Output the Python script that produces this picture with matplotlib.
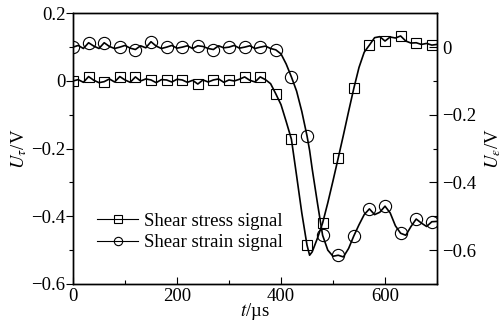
import matplotlib
matplotlib.use("Agg")
import matplotlib.pyplot as plt
from matplotlib.lines import Line2D
from matplotlib.ticker import MultipleLocator
import numpy as np

plt.rcParams['font.family'] = ['Liberation Serif', 'DejaVu Serif']
plt.rcParams['mathtext.fontset'] = 'stix'
plt.rcParams['axes.unicode_minus'] = True

# time in microseconds
t_us = [0, 10, 20, 30, 40, 50, 60, 70, 80, 90, 100, 110, 120, 130, 140, 150, 160, 170, 180, 190,
        200, 210, 220, 230, 240, 250, 260, 270, 280, 290, 300, 310, 320, 330, 340, 350, 360, 370, 380, 390,
        400, 410, 420, 430, 440, 450, 455, 460, 470, 480, 490, 500, 510, 520, 530, 540, 550, 560, 570, 580,
        590, 600, 610, 620, 630, 640, 650, 660, 670, 680, 690, 700]

# shear stress signal U_tau (V), left axis
stress = [0.000, 0.004, -0.004, 0.013, 0.002, -0.005, -0.002, 0.006, -0.003, 0.013,
          0.003, -0.004, 0.012, 0.000, 0.006, 0.003, -0.005, 0.004, 0.003, -0.003,
          0.005, 0.003, -0.004, 0.002, -0.009, 0.003, -0.003, 0.003, 0.006, -0.004,
          0.003, 0.000, 0.005, 0.012, 0.002, -0.003, 0.012, 0.004, -0.008, -0.038,
          -0.070, -0.120, -0.172, -0.280, -0.390, -0.485, -0.515, -0.505, -0.465, -0.420,
          -0.360, -0.295, -0.228, -0.160, -0.090, -0.022, 0.040, 0.085, 0.106, 0.128,
          0.131, 0.118, 0.130, 0.127, 0.133, 0.118, 0.112, 0.113, 0.108, 0.111,
          0.106, 0.108]

# shear strain signal U_eps (V), right axis
strain = [0.000, 0.005, -0.004, 0.013, 0.003, -0.004, 0.013, 0.002, -0.004, 0.000,
          0.005, -0.003, -0.007, 0.004, -0.002, 0.016, 0.003, -0.004, 0.000, 0.005,
          -0.003, 0.000, 0.004, -0.004, 0.004, 0.002, -0.004, -0.007, 0.004, -0.002,
          0.000, 0.005, -0.003, 0.000, 0.004, -0.004, 0.000, 0.003, -0.004, -0.008,
          -0.020, -0.050, -0.088, -0.130, -0.190, -0.262, -0.305, -0.360, -0.460, -0.556,
          -0.600, -0.618, -0.615, -0.620, -0.595, -0.558, -0.525, -0.495, -0.478, -0.495,
          -0.488, -0.470, -0.490, -0.528, -0.550, -0.556, -0.530, -0.508, -0.520, -0.530,
          -0.516, -0.515]

labels = ['Shear stress signal', 'Shear strain signal']

mark_idx = [i for i, tv in enumerate(t_us) if tv % 30 == 0]

fig = plt.figure(figsize=(5.02, 3.26), dpi=100)
ax = fig.add_axes([73/502, 1 - 284/326, 364/502, 270.7/326])
ax2 = ax.twinx()

ax.plot(t_us, stress, color='black', lw=1.2, marker='s', markevery=mark_idx,
        markersize=7.2, markerfacecolor='none', markeredgecolor='black', markeredgewidth=0.8)
ax2.plot(t_us, strain, color='black', lw=1.2, marker='o', markevery=mark_idx,
         markersize=8.8, markerfacecolor='none', markeredgecolor='black', markeredgewidth=0.8)

ax.set_xlim(0, 700)
ax.set_ylim(-0.6, 0.2)
ax2.set_ylim(-0.7, 0.1)

ax.xaxis.set_major_locator(MultipleLocator(200))
ax.xaxis.set_minor_locator(MultipleLocator(100))
ax.yaxis.set_minor_locator(MultipleLocator(0.1))
ax2.yaxis.set_minor_locator(MultipleLocator(0.1))

def fmt(v):
    s = ('%.1f' % v).replace('-', '\u2212')
    if s in ('0.0', '\u22120.0'):
        return '0'
    return s

left_ticks = [0.2, 0, -0.2, -0.4, -0.6]
right_ticks = [0, -0.2, -0.4, -0.6]
ax.set_yticks(left_ticks)
ax.set_yticklabels([fmt(v) for v in left_ticks])
ax2.set_yticks(right_ticks)
ax2.set_yticklabels([fmt(v) for v in right_ticks])

fs = 13.5
ax.tick_params(axis='x', which='both', direction='in', top=False, labelsize=fs, pad=3)
ax.tick_params(axis='x', which='major', length=5, width=0.8)
ax.tick_params(axis='x', which='minor', length=3, width=0.8)
ax.tick_params(axis='y', which='both', direction='out', labelsize=fs, pad=0.5)
ax.tick_params(axis='y', which='major', length=5, width=0.8)
ax.tick_params(axis='y', which='minor', length=3, width=0.8)
ax2.tick_params(axis='y', which='both', direction='in', labelsize=fs, pad=4)
ax2.tick_params(axis='y', which='major', length=6, width=0.8)
ax2.tick_params(axis='y', which='minor', length=3, width=0.8)

for a in (ax, ax2):
    for sp in a.spines.values():
        sp.set_linewidth(1.0)

ax.set_xlabel('$t$/\u00b5s', fontsize=fs, labelpad=-3)
ax.set_ylabel('$U_{\\tau}$/V', fontsize=fs, labelpad=1.5)
ax2.set_ylabel('$U_{\\varepsilon}$/V', fontsize=fs, rotation=90, labelpad=5)

handles = [
    Line2D([], [], color='black', lw=0.8, marker='s', markersize=5.5, markerfacecolor='none',
           markeredgecolor='black', markeredgewidth=0.8),
    Line2D([], [], color='black', lw=0.8, marker='o', markersize=6, markerfacecolor='none',
           markeredgecolor='black', markeredgewidth=0.8),
]
ax.legend(handles, labels, loc='center left', bbox_to_anchor=(0.066, 0.192), frameon=False,
          fontsize=fs, handlelength=2.2, handletextpad=0.3, borderpad=0, borderaxespad=0,
          labelspacing=0.25)

fig.savefig('out.png', dpi=100)
